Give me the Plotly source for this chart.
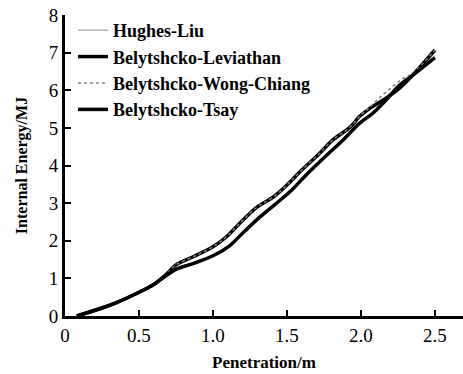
import plotly.graph_objects as go

# Upper curve (Belytshcko-Leviathan)
x_lev = [0.08, 0.24, 0.34, 0.51, 0.60, 0.69, 0.75, 0.87, 1.00, 1.09, 1.18, 1.30, 1.41, 1.50, 1.59, 1.72, 1.81, 1.93, 1.99, 2.06, 2.15, 2.26, 2.35, 2.50]
y_lev = [0.00, 0.20, 0.34, 0.65, 0.84, 1.13, 1.36, 1.58, 1.84, 2.10, 2.46, 2.90, 3.17, 3.48, 3.84, 4.32, 4.68, 5.03, 5.30, 5.52, 5.74, 6.05, 6.40, 7.07]

# Lower curve (Belytshcko-Tsay)
x_tsay = [0.08, 0.24, 0.34, 0.51, 0.60, 0.69, 0.75, 0.87, 1.00, 1.11, 1.20, 1.32, 1.43, 1.52, 1.63, 1.77, 1.88, 1.99, 2.08, 2.17, 2.26, 2.35, 2.50]
y_tsay = [0.00, 0.20, 0.34, 0.65, 0.84, 1.09, 1.24, 1.40, 1.60, 1.86, 2.20, 2.64, 3.00, 3.30, 3.75, 4.28, 4.68, 5.12, 5.39, 5.74, 6.13, 6.40, 6.87]

# Hughes-Liu (thin gray, mostly under lower curve)
x_hl = [0.08, 0.24, 0.34, 0.51, 0.60, 0.69, 0.75, 0.87, 1.00, 1.11, 1.20, 1.32, 1.43, 1.52, 1.63, 1.77, 1.88, 1.99, 2.08, 2.17, 2.26, 2.35, 2.50]
y_hl = [0.00, 0.20, 0.34, 0.65, 0.84, 1.10, 1.26, 1.42, 1.62, 1.88, 2.22, 2.66, 3.02, 3.32, 3.77, 4.30, 4.70, 5.14, 5.41, 5.76, 6.15, 6.42, 6.89]

# Belytshcko-Wong-Chiang (dotted gray, deviates near 2.1-2.3)
x_wc = [0.08, 0.24, 0.34, 0.51, 0.60, 0.69, 0.75, 0.87, 1.00, 1.09, 1.18, 1.30, 1.41, 1.50, 1.59, 1.72, 1.81, 1.93, 1.99, 2.06, 2.12, 2.20, 2.28, 2.35, 2.50]
y_wc = [0.00, 0.20, 0.34, 0.65, 0.84, 1.13, 1.36, 1.58, 1.84, 2.10, 2.46, 2.90, 3.17, 3.48, 3.84, 4.32, 4.68, 5.03, 5.30, 5.55, 5.78, 6.05, 6.30, 6.45, 7.07]

x_ticks = [0, 0.5, 1.0, 1.5, 2.0, 2.5]
x_ticklabels = ["0", "0.5", "1.0", "1.5", "2.0", "2.5"]
y_ticks = [0, 1, 2, 3, 4, 5, 6, 7, 8]

font_family = "Liberation Serif"

fig = go.Figure()
fig.add_trace(go.Scatter(x=x_hl, y=y_hl, mode="lines", name="Hughes-Liu",
                         line=dict(color="#a0a0a0", width=1.2, shape="spline")))
fig.add_trace(go.Scatter(x=x_lev, y=y_lev, mode="lines", name="Belytshcko-Leviathan",
                         line=dict(color="black", width=3.5, shape="spline")))
fig.add_trace(go.Scatter(x=x_wc, y=y_wc, mode="lines", name="Belytshcko-Wong-Chiang",
                         line=dict(color="#808080", width=1.5, dash="dot", shape="spline")))
fig.add_trace(go.Scatter(x=x_tsay, y=y_tsay, mode="lines", name="Belytshcko-Tsay",
                         line=dict(color="black", width=3.5, shape="spline")))

fig.update_layout(
    width=463, height=374,
    margin=dict(l=65, r=0, t=15, b=58),
    paper_bgcolor="white", plot_bgcolor="white",
    font=dict(family=font_family, size=18, color="black"),
    showlegend=True,
    legend=dict(x=0.02, y=1.01, xanchor="left", yanchor="top",
                bgcolor="rgba(0,0,0,0)", tracegroupgap=0,
                font=dict(family=font_family, size=18, color="black"),
                itemwidth=30),
    xaxis=dict(range=[0, 2.69], tickvals=x_ticks, ticktext=x_ticklabels,
               ticks="inside", ticklen=6, tickwidth=2, tickcolor="black",
               showline=True, linecolor="black", linewidth=3,
               showgrid=False, zeroline=False,
               tickfont=dict(family=font_family, size=19, color="black"),
               title=dict(text="<b>Penetration/m</b>", standoff=12,
                          font=dict(family=font_family, size=17))),
    yaxis=dict(range=[0, 8], tickvals=y_ticks,
               ticks="inside", ticklen=6, tickwidth=2, tickcolor="black",
               showline=True, linecolor="black", linewidth=3,
               showgrid=False, zeroline=False,
               tickfont=dict(family=font_family, size=19, color="black"),
               title=dict(text="<b>Internal Energy/MJ</b>", standoff=18,
                          font=dict(family=font_family, size=16))),
)
fig.update_xaxes(tickprefix="<b>", ticksuffix="</b>")
fig.update_yaxes(tickprefix="<b>", ticksuffix="</b>")
fig.for_each_trace(lambda t: t.update(name="<b>" + t.name + "</b>"))

fig.write_html("out.html")
